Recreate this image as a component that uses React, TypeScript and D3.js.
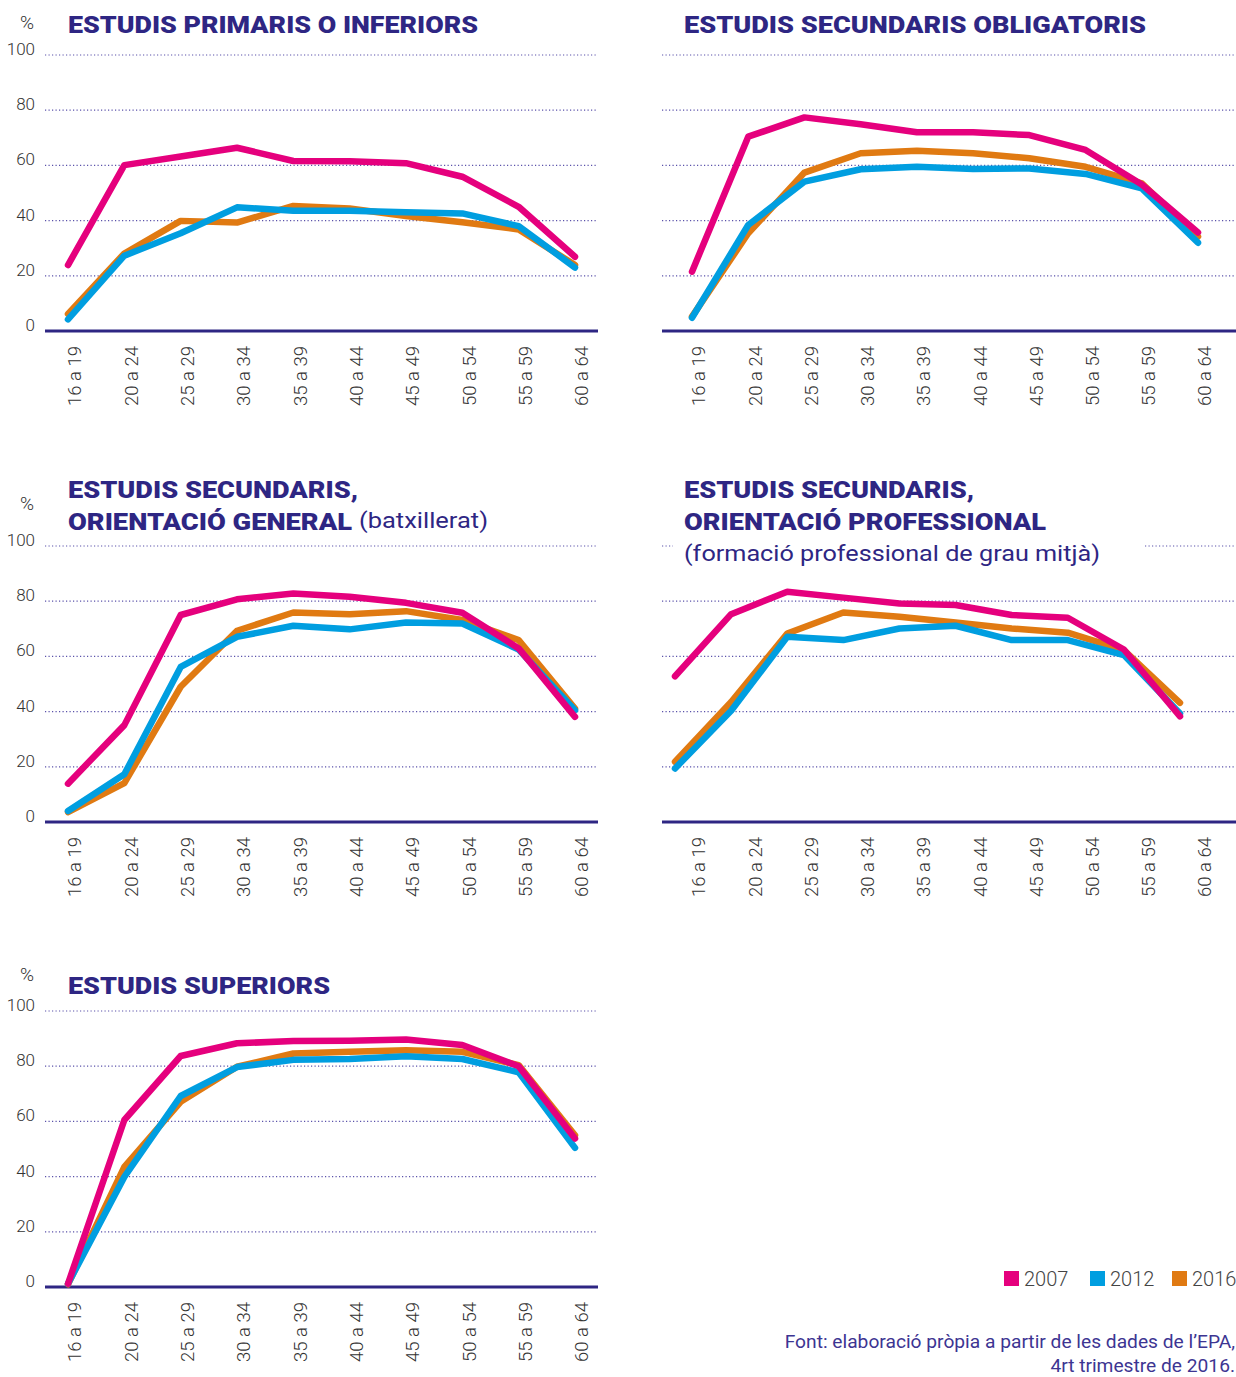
import React from "react";
import * as d3 from "d3";

const ageGroups = ["16 a 19", "20 a 24", "25 a 29", "30 a 34", "35 a 39", "40 a 44", "45 a 49", "50 a 54", "55 a 59", "60 a 64"];
const yTicks = [0, 20, 40, 60, 80, 100];
const years = ["2007", "2012", "2016"];
const yearColors = ["#e5007d", "#009ee0", "#e07a12"];

const primaris2007 = [23.9, 60.1, 63.2, 66.4, 61.6, 61.5, 60.8, 55.9, 45.0, 26.9];
const primaris2012 = [4.2, 27.3, 35.4, 44.8, 43.6, 43.6, 43.0, 42.6, 38.0, 23.0];
const primaris2016 = [6.2, 28.1, 39.9, 39.3, 45.3, 44.4, 41.7, 39.4, 36.8, 23.9];

const obligatoris2007 = [21.5, 70.4, 77.4, 74.9, 72.0, 72.0, 71.0, 65.6, 53.1, 35.7];
const obligatoris2012 = [4.8, 38.4, 54.1, 58.6, 59.5, 58.7, 58.9, 56.9, 51.7, 32.0];
const obligatoris2016 = [5.2, 35.4, 57.4, 64.4, 65.3, 64.4, 62.6, 59.5, 53.5, 34.2];

const general2007 = [13.9, 35.1, 75.0, 80.7, 82.8, 81.6, 79.4, 75.8, 62.9, 38.1];
const general2012 = [4.0, 17.3, 56.2, 67.1, 71.1, 69.8, 72.3, 71.9, 62.5, 40.5];
const general2016 = [3.6, 14.1, 49.0, 69.3, 75.9, 75.3, 76.4, 73.2, 65.9, 41.1];

const professional2007 = [52.8, 75.3, 83.4, 81.3, 79.2, 78.6, 75.0, 74.0, 62.5, 38.3];
const professional2012 = [19.4, 40.3, 67.1, 65.9, 70.1, 71.1, 65.9, 65.9, 60.5, 39.3];
const professional2016 = [21.8, 43.5, 68.3, 75.9, 74.4, 72.3, 70.1, 68.6, 62.3, 43.2];

const superiors2007 = [1.2, 60.5, 83.7, 88.3, 89.1, 89.2, 89.7, 87.7, 80.0, 53.8];
const superiors2012 = [1.2, 39.9, 69.2, 79.7, 82.3, 82.6, 83.6, 82.6, 77.8, 50.4];
const superiors2016 = [1.0, 43.5, 67.1, 79.8, 84.6, 85.2, 85.8, 85.2, 80.4, 55.0];

const INDIGO = "#2e2683";
const GRID = "#5b52aa";
const FONT = "Roboto, 'Liberation Sans', sans-serif";

type TitleLine = { text: string; x: number; y: number; w: number; bold: boolean; size: number; bg?: boolean };

type Panel = {
  series: number[][];
  gridX: [number, number];
  pointX: [number, number];
  labelX: [number, number];
  axisY: number;
  showY: boolean;
  percentY?: number;
  titles: TitleLine[];
};

const panels: Panel[] = [
  {
    series: [primaris2007, primaris2012, primaris2016],
    gridX: [45, 598], pointX: [68, 575], labelX: [68, 575], axisY: 331, showY: true, percentY: 29,
    titles: [{ text: "ESTUDIS PRIMARIS O INFERIORS", x: 68, y: 33, w: 410, bold: true, size: 24 }],
  },
  {
    series: [obligatoris2007, obligatoris2012, obligatoris2016],
    gridX: [662, 1236], pointX: [692, 1198], labelX: [692, 1198], axisY: 331, showY: false,
    titles: [{ text: "ESTUDIS SECUNDARIS OBLIGATORIS", x: 684, y: 33, w: 462, bold: true, size: 24 }],
  },
  {
    series: [general2007, general2012, general2016],
    gridX: [45, 598], pointX: [68, 575], labelX: [68, 575], axisY: 822, showY: true, percentY: 510,
    titles: [
      { text: "ESTUDIS SECUNDARIS,", x: 68, y: 498, w: 290, bold: true, size: 24 },
      { text: "ORIENTACIÓ GENERAL", x: 68, y: 530, w: 284, bold: true, size: 24 },
      { text: "(batxillerat)", x: 359, y: 528, w: 129, bold: false, size: 22 },
    ],
  },
  {
    series: [professional2007, professional2012, professional2016],
    gridX: [662, 1236], pointX: [675, 1180], labelX: [692, 1198], axisY: 822, showY: false,
    titles: [
      { text: "ESTUDIS SECUNDARIS,", x: 684, y: 498, w: 290, bold: true, size: 24 },
      { text: "ORIENTACIÓ PROFESSIONAL", x: 684, y: 530, w: 362, bold: true, size: 24 },
      { text: "(formació professional de grau mitjà)", x: 684, y: 561, w: 416, bold: false, size: 22, bg: true },
    ],
  },
  {
    series: [superiors2007, superiors2012, superiors2016],
    gridX: [45, 598], pointX: [68, 575], labelX: [68, 575], axisY: 1287, showY: true, percentY: 981,
    titles: [{ text: "ESTUDIS SUPERIORS", x: 68, y: 994, w: 262, bold: true, size: 24 }],
  },
];

function ChartPanel({ p }: { p: Panel }) {
  const y = d3.scaleLinear().domain([0, 100]).range([p.axisY, p.axisY - 276]);
  const x = d3.scalePoint<string>().domain(ageGroups).range(p.pointX);
  const xl = d3.scalePoint<string>().domain(ageGroups).range(p.labelX);
  const line = d3
    .line<number>()
    .x((_, i) => x(ageGroups[i]) as number)
    .y((d) => y(d));
  const order = [2, 1, 0];
  return (
    <g>
      {yTicks.filter((t) => t > 0).map((t) => (
        <line key={t} x1={p.gridX[0]} x2={p.gridX[1]} y1={y(t)} y2={y(t)} stroke={GRID} strokeWidth={1.2} strokeDasharray="1.2 2.3" />
      ))}
      {p.showY &&
        yTicks.map((t) => (
          <text key={t} x={35} y={y(t)} textAnchor="end" fontSize={17} fill="#333" fontFamily={FONT} fontWeight={300}>
            {t}
          </text>
        ))}
      {p.percentY !== undefined && (
        <text x={27} y={p.percentY} textAnchor="middle" fontSize={19} fill="#333" fontFamily={FONT} fontWeight={300}>
          %
        </text>
      )}
      {p.titles.map((t, i) => (
        <g key={i}>
          {t.bg && <rect x={t.x - 11} y={t.y - 22} width={t.w + 54} height={30} fill="#fff" />}
          <text
            x={t.x}
            y={t.y}
            fontSize={t.size}
            fontWeight={t.bold ? 900 : 400}
            fill={INDIGO}
            fontFamily={FONT}
            textLength={t.w}
            lengthAdjust="spacingAndGlyphs"
          >
            {t.text}
          </text>
        </g>
      ))}
      <line x1={p.gridX[0]} x2={p.gridX[1]} y1={p.axisY} y2={p.axisY} stroke={INDIGO} strokeWidth={3} />
      {ageGroups.map((g) => (
        <text
          key={g}
          transform={`translate(${(xl(g) as number) + 7},${p.axisY + 15}) rotate(-90)`}
          textAnchor="end"
          dy="0.35em"
          fontSize={18.5}
          fill="#333"
          fontFamily={FONT}
          fontWeight={300}
        >
          {g}
        </text>
      ))}
      {order.map((k) => (
        <path
          key={k}
          d={line(p.series[k]) as string}
          fill="none"
          stroke={yearColors[k]}
          strokeWidth={6.5}
          strokeLinejoin="round"
          strokeLinecap="round"
        />
      ))}
    </g>
  );
}

export default function App() {
  const legendX = [1004, 1090, 1172];
  return (
    <svg width={1236} height={1377} style={{ position: "absolute", left: 0, top: 0, background: "#fff" }}>
      <rect width={1236} height={1377} fill="#fff" />
      {panels.map((p, i) => (
        <ChartPanel key={i} p={p} />
      ))}
      {years.map((yr, i) => (
        <g key={yr}>
          <rect x={legendX[i]} y={1271} width={15} height={15} fill={yearColors[i]} />
          <text x={legendX[i] + 20} y={1286} fontSize={20} fill="#444" fontFamily={FONT} fontWeight={300}>
            {yr}
          </text>
        </g>
      ))}
      <text x={1235} y={1348} textAnchor="end" fontSize={19.2} fill="#3d3592" fontFamily={FONT}>
        Font: elaboració pròpia a partir de les dades de l’EPA,
      </text>
      <text x={1235} y={1372} textAnchor="end" fontSize={19.2} fill="#3d3592" fontFamily={FONT}>
        4rt trimestre de 2016.
      </text>
    </svg>
  );
}
